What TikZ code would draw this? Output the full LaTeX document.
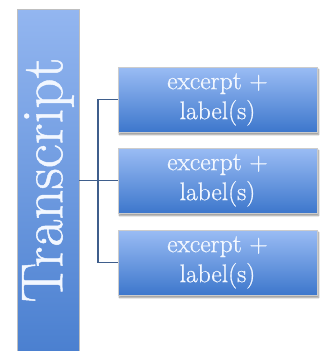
\documentclass[tikz,border=0pt]{standalone}
\usepackage{fontspec}
\usetikzlibrary{shadows.blur}
\newfontfamily\heavyserif{Latin Modern Roman}[FakeBold=0.8]
\definecolor{boxtop}{HTML}{9ABCF4}
\definecolor{boxbot}{HTML}{3D77CC}
\definecolor{bartop}{HTML}{93B6F0}
\definecolor{barbot}{HTML}{4B80D0}
\definecolor{linkcol}{HTML}{3F5E8C}
\definecolor{labeltext}{HTML}{F2F7FF}
\begin{document}
\begin{tikzpicture}[x=1pt,y=-1pt,
  barbox/.style={rectangle, inner sep=0pt, minimum width=62pt, minimum height=342pt,
    top color=bartop, bottom color=barbot, draw=black!25, line width=0.4pt,
    text=labeltext, font=\heavyserif\fontsize{59}{64}\selectfont},
  itembox/.style={rectangle, inner sep=0pt, minimum width=199pt, minimum height=65pt,
    top color=boxtop, bottom color=boxbot, draw=black!20, line width=0.4pt,
    text=labeltext, align=center, font=\heavyserif\fontsize{25.5}{30}\selectfont,
    blur shadow={shadow xshift=1.5pt, shadow yshift=-2.5pt, shadow blur steps=6, shadow opacity=45}},
  link/.style={draw=linkcol, line width=1.8pt}]
  \useasboundingbox (0,0) rectangle (320,351);

  % main column
  \node[barbox] (tr) at (48,180) {\rotatebox{90}{Transcript}};

  % excerpt boxes
  \node[itembox] (b1) at (217.5,99.5) {excerpt +\\label(s)};
  \node[itembox] (b2) at (217.5,180.5) {excerpt +\\label(s)};
  \node[itembox] (b3) at (217.5,262.5) {excerpt +\\label(s)};

  % tree connector
  \coordinate (j) at (98,180.5);
  \draw[link] (tr.east |- j) -- (j);
  \draw[link] (b1.west) -| (j) |- (b3.west);
  \draw[link] (j) -- (b2.west);
\end{tikzpicture}
\end{document}
